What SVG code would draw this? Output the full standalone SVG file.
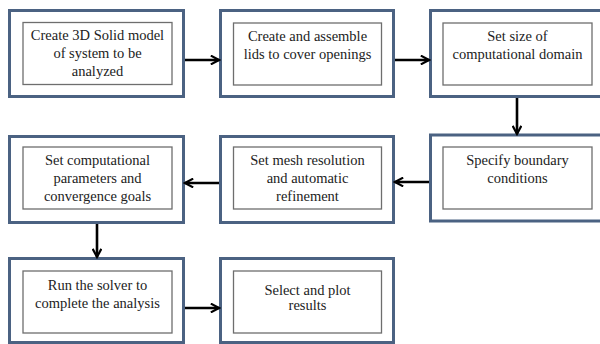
<svg xmlns="http://www.w3.org/2000/svg" width="600" height="344" viewBox="0 0 600 344">
<defs>
<style>
.outer{fill:#fff;stroke:#4b6282;stroke-width:3}
.inner{fill:#fff;stroke:#6e6e6e;stroke-width:1.3}
.t{font-size:14.5px;fill:#222;text-anchor:middle}
.c{stroke:#000;stroke-width:2.6;fill:none}
</style>
<marker id="ah" viewBox="0 0 10 10" refX="8.5" refY="5" markerWidth="4.2" markerHeight="4.2" orient="auto" markerUnits="strokeWidth">
<path d="M1,1 L8.5,5 L1,9" fill="none" stroke="#000" stroke-width="2"/>
</marker>
</defs>
<rect width="600" height="344" fill="#fff"/>
<g font-family="Liberation Serif, Times New Roman, DejaVu Serif, serif">
<g id="n1">
<rect class="outer" x="9.5" y="10.5" width="174" height="86"/>
<rect class="inner" x="23" y="22.5" width="149" height="62"/>
<text class="t" x="97.5" y="40">Create 3D Solid model</text>
<text class="t" x="97.5" y="58">of system to be</text>
<text class="t" x="97.5" y="76">analyzed</text>
</g>
<g id="n2">
<rect class="outer" x="220.5" y="10.5" width="173" height="86"/>
<rect class="inner" x="233.5" y="23" width="148" height="62"/>
<text class="t" x="307.5" y="41">Create and assemble</text>
<text class="t" x="307.5" y="59">lids to cover openings</text>
</g>
<g id="n3">
<rect class="outer" x="430.5" y="10.5" width="175" height="86"/>
<rect class="inner" x="443" y="23" width="149" height="62"/>
<text class="t" x="517.5" y="41">Set size of</text>
<text class="t" x="517.5" y="59">computational domain</text>
</g>
<g id="n4">
<rect class="outer" x="430.5" y="135" width="175" height="86"/>
<rect class="inner" x="443" y="147" width="149" height="62"/>
<text class="t" x="517.5" y="165">Specify boundary</text>
<text class="t" x="517.5" y="183">conditions</text>
</g>
<g id="n5">
<rect class="outer" x="220.5" y="136.5" width="173" height="86"/>
<rect class="inner" x="233.5" y="147" width="148" height="62"/>
<text class="t" x="307.5" y="165">Set mesh resolution</text>
<text class="t" x="307.5" y="183">and automatic</text>
<text class="t" x="307.5" y="201">refinement</text>
</g>
<g id="n6">
<rect class="outer" x="9.5" y="136.5" width="174" height="86"/>
<rect class="inner" x="23" y="147" width="149" height="62"/>
<text class="t" x="97.5" y="165">Set computational</text>
<text class="t" x="97.5" y="183">parameters and</text>
<text class="t" x="97.5" y="201">convergence goals</text>
</g>
<g id="n7">
<rect class="outer" x="9.5" y="258.5" width="174" height="84"/>
<rect class="inner" x="23" y="271" width="149" height="62"/>
<text class="t" x="97.5" y="290">Run the solver to</text>
<text class="t" x="97.5" y="308">complete the analysis</text>
</g>
<g id="n8">
<rect class="outer" x="220.5" y="258.5" width="173" height="84"/>
<rect class="inner" x="233.5" y="271" width="148" height="62"/>
<text class="t" x="307.5" y="295">Select and plot</text>
<text class="t" x="307.5" y="310">results</text>
</g>
</g>
<g id="connectors">
<line class="c" x1="185" y1="60" x2="219" y2="60" marker-end="url(#ah)"/>
<line class="c" x1="395" y1="60" x2="429" y2="60" marker-end="url(#ah)"/>
<line class="c" x1="517" y1="98" x2="517" y2="134" marker-end="url(#ah)"/>
<line class="c" x1="429" y1="182" x2="395" y2="182" marker-end="url(#ah)"/>
<line class="c" x1="219" y1="183" x2="185" y2="183" marker-end="url(#ah)"/>
<line class="c" x1="97" y1="224" x2="97" y2="257" marker-end="url(#ah)"/>
<line class="c" x1="185" y1="308" x2="219" y2="308" marker-end="url(#ah)"/>
</g>
</svg>
